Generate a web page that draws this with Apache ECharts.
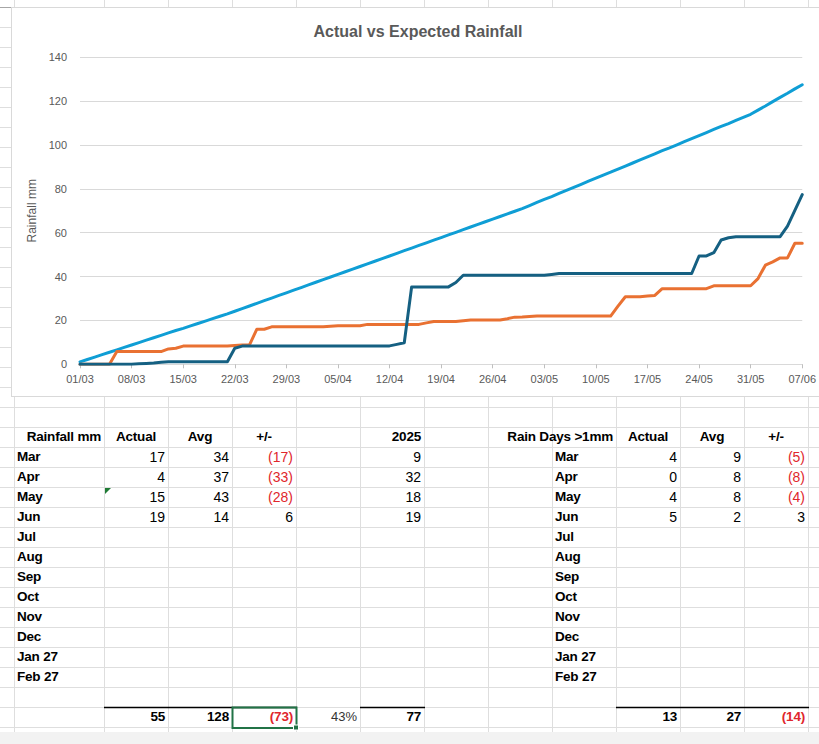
<!DOCTYPE html>
<html>
<head>
<meta charset="utf-8">
<title>Actual vs Expected Rainfall</title>
<script src="https://cdn.jsdelivr.net/npm/echarts@6/dist/echarts.min.js"></script>
<style>
  html, body { margin: 0; padding: 0; background: #fff; }
  #sheet { position: absolute; left: 0; top: 0; width: 819px; height: 744px; overflow: hidden; }
  #grid { position: absolute; left: 0; top: 0; }
  #chartBox { position: absolute; left: 11px; top: 7px; width: 830px; height: 390px; background: #fff; border: 1px solid #d9d9d9; box-sizing: border-box; }
  #chart { position: absolute; left: 0; top: 0; width: 819px; height: 744px; }
  .cell { position: absolute; white-space: nowrap; line-height: 20px; height: 20px; color: #000; }
  .lbl { font: bold 13.5px "Liberation Sans", Arial, sans-serif; letter-spacing: -0.2px; }
  .num { font: 14px "Liberation Sans", Arial, sans-serif; }
  .pct { font: 13px "Liberation Sans", Arial, sans-serif; color: #333; }
  .neg { color: #e0262c; }
</style>
</head>
<body>
<div id="sheet">
  <svg id="grid" width="819" height="744"></svg>
  <div id="chartBox"></div>
  <div id="cells"></div>
</div>
<div id="chart"></div>
<script>
// daily cumulative rainfall (mm), 01/03 .. 07/06
const monthDays = [['03', 31], ['04', 30], ['05', 31], ['06', 7]];

const avgCum = [
  1.1, 2.2, 3.3, 4.4, 5.5, 6.6, 7.7, 8.8, 9.9, 11.0, 12.1, 13.2, 14.3, 15.4, 16.4, 17.5,
  18.6, 19.7, 20.8, 21.9, 23.0, 24.2, 25.4, 26.6, 27.8, 29.0, 30.2, 31.4, 32.6, 33.8, 35.0,
  36.2, 37.4, 38.6, 39.8, 41.0, 42.2, 43.4, 44.6, 45.8, 47.0, 48.2, 49.4, 50.6, 51.8, 53.0,
  54.2, 55.4, 56.6, 57.8, 59.0, 60.2, 61.4, 62.6, 63.8, 65.0, 66.2, 67.4, 68.6, 69.8, 71.0,
  72.4, 73.8, 75.2, 76.5, 77.9, 79.3, 80.7, 82.1, 83.5, 84.9, 86.3, 87.6, 89.0, 90.4, 91.8,
  93.2, 94.6, 96.0, 97.4, 98.7, 100.1, 101.5, 102.9, 104.3, 105.7, 107.1, 108.5, 109.8, 111.2,
  112.6, 114.0,
  115.9, 117.8, 119.8, 121.7, 123.6, 125.6, 127.5
];

const actualCum = [
  0, 0, 0, 0, 0, 5.8, 5.8, 5.8, 5.8, 5.8, 5.8, 5.8, 7.0, 7.3, 8.3, 8.3,
  8.3, 8.3, 8.3, 8.3, 8.3, 8.6, 8.8, 8.9, 16.0, 16.0, 17.1, 17.1, 17.1, 17.1, 17.1,
  17.1, 17.1, 17.1, 17.4, 17.6, 17.6, 17.6, 17.6, 18.2, 18.2, 18.2, 18.2, 18.2, 18.2, 18.2,
  18.2, 18.9, 19.5, 19.5, 19.5, 19.5, 19.9, 20.2, 20.2, 20.2, 20.2, 20.2, 20.8, 21.5, 21.6,
  21.8, 22.0, 22.0, 22.0, 22.0, 22.0, 22.0, 22.0, 22.0, 22.0, 22.0, 22.0, 26.5, 30.8, 30.8,
  30.8, 31.1, 31.4, 34.5, 34.5, 34.5, 34.5, 34.5, 34.5, 34.5, 35.8, 35.8, 35.8, 35.8, 35.8,
  35.8,
  39.1, 45.2, 46.7, 48.5, 48.5, 55.2, 55.2
];

const y2025Cum = [
  0, 0, 0, 0, 0, 0, 0, 0, 0.2, 0.4, 0.6, 0.9, 1.2, 1.2, 1.2, 1.2,
  1.2, 1.2, 1.2, 1.2, 1.2, 7.3, 8.3, 8.4, 8.4, 8.4, 8.4, 8.4, 8.4, 8.4, 8.4,
  8.4, 8.4, 8.4, 8.4, 8.4, 8.4, 8.4, 8.4, 8.4, 8.4, 8.4, 8.4, 9.1, 9.8, 35.3,
  35.3, 35.3, 35.3, 35.3, 35.3, 37.3, 40.6, 40.6, 40.6, 40.6, 40.6, 40.6, 40.6, 40.6, 40.6,
  40.6, 40.6, 40.6, 41.0, 41.4, 41.4, 41.4, 41.4, 41.4, 41.4, 41.4, 41.4, 41.4, 41.4, 41.4,
  41.4, 41.4, 41.4, 41.4, 41.4, 41.4, 41.4, 41.4, 49.4, 49.4, 50.9, 56.7, 57.7, 58.2, 58.2,
  58.2,
  58.2, 58.2, 58.2, 58.2, 63.0, 70.2, 77.4
];

// table data
const months = ['Mar', 'Apr', 'May', 'Jun', 'Jul', 'Aug', 'Sep', 'Oct', 'Nov', 'Dec', 'Jan 27', 'Feb 27'];
const rainActual = [17, 4, 15, 19];
const rainAvg = [34, 37, 43, 14];
const rainDiff = [-17, -33, -28, 6];
const rain2025 = [9, 32, 18, 19];
const rainTotals = [55, 128, -73];
const rainPct = '43%';
const rain2025Total = 77;
const daysActual = [4, 0, 4, 5];
const daysAvg = [9, 8, 8, 2];
const daysDiff = [-5, -8, -4, 3];
const daysTotals = [13, 27, -14];

const days = [];
monthDays.forEach(([m, n]) => {
  for (let d = 1; d <= n; d++) days.push(String(d).padStart(2, '0') + '/' + m);
});

// ---- spreadsheet backdrop ----
const PAGE_W = 819;
const COLS = [0, 14, 104, 168, 232, 296, 360, 424, 488, 552, 616, 680, 744, 808, 872];
const ROW0 = 7;
const ROW_H = 20;
const rowTop = r => ROW0 + r * ROW_H;

const svg = document.getElementById('grid');
const NS = 'http://www.w3.org/2000/svg';
function svgEl(tag, attrs) {
  const e = document.createElementNS(NS, tag);
  Object.keys(attrs).forEach(k => e.setAttribute(k, attrs[k]));
  svg.appendChild(e);
  return e;
}
COLS.slice(1, -1).forEach(x => svgEl('line', { x1: x + 0.5, x2: x + 0.5, y1: 0, y2: 732, stroke: '#dedede' }));
for (let r = 1; r <= 36; r++) {
  svgEl('line', { x1: 0, x2: PAGE_W, y1: rowTop(r) + 0.5, y2: rowTop(r) + 0.5, stroke: '#dedede' });
}
svgEl('line', { x1: 0, x2: PAGE_W, y1: ROW0 + 0.5, y2: ROW0 + 0.5, stroke: '#a6a6a6' });
svgEl('rect', { x: 0, y: 732, width: PAGE_W, height: 12, fill: '#f2f2f2' });
// total borders
[[2, 5], [6, 7], [10, 13]].forEach(([a, b]) => {
  svgEl('line', { x1: COLS[a], x2: COLS[b] + 1, y1: rowTop(35) + 0.5, y2: rowTop(35) + 0.5, stroke: '#000', 'stroke-width': 1.5 });
});
// error indicator on May / Actual
svgEl('polygon', { points: `${COLS[2] + 1},${rowTop(24) + 1} ${COLS[2] + 7},${rowTop(24) + 1} ${COLS[2] + 1},${rowTop(24) + 7}`, fill: '#1e7b34' });
// selected cell
svgEl('rect', { x: COLS[4] + 0.5, y: rowTop(35) + 0.5, width: COLS[5] - COLS[4], height: 20.5, fill: 'none', stroke: '#217346', 'stroke-width': 2 });
svgEl('rect', { x: COLS[5] - 2.5, y: rowTop(36) - 2, width: 5, height: 5, fill: '#217346', stroke: '#fff', 'stroke-width': 1 });

const cells = document.getElementById('cells');
function cell(text, col, row, align, cls) {
  const d = document.createElement('div');
  d.className = 'cell ' + cls;
  d.textContent = text;
  d.style.top = (rowTop(row) + 1.5) + 'px';
  const l = COLS[col], r = COLS[col + 1];
  if (align === 'left') d.style.left = (l + 3) + 'px';
  else if (align === 'right') d.style.right = (PAGE_W - r + 3) + 'px';
  else { d.style.left = ((l + r) / 2) + 'px'; d.style.transform = 'translateX(-50%)'; }
  cells.appendChild(d);
}
const fmt = v => (v < 0 ? '(' + Math.abs(v) + ')' : String(v));
const negCls = v => (v < 0 ? ' neg' : '');

// rainfall table
cell('Rainfall mm', 1, 21, 'right', 'lbl');
cell('Actual', 2, 21, 'center', 'lbl');
cell('Avg', 3, 21, 'center', 'lbl');
cell('+/-', 4, 21, 'center', 'lbl');
cell('2025', 6, 21, 'right', 'lbl');
months.forEach((m, i) => {
  cell(m, 1, 22 + i, 'left', 'lbl');
  if (i < rainActual.length) {
    cell(fmt(rainActual[i]), 2, 22 + i, 'right', 'num');
    cell(fmt(rainAvg[i]), 3, 22 + i, 'right', 'num');
    cell(fmt(rainDiff[i]), 4, 22 + i, 'right', 'num' + negCls(rainDiff[i]));
    cell(fmt(rain2025[i]), 6, 22 + i, 'right', 'num');
  }
});
rainTotals.forEach((v, i) => cell(fmt(v), 2 + i, 35, 'right', 'lbl' + negCls(v)));
cell(rainPct, 5, 35, 'right', 'pct');
cell(fmt(rain2025Total), 6, 35, 'right', 'lbl');

// rain days table
cell('Rain Days >1mm', 9, 21, 'right', 'lbl');
cell('Actual', 10, 21, 'center', 'lbl');
cell('Avg', 11, 21, 'center', 'lbl');
cell('+/-', 12, 21, 'center', 'lbl');
months.forEach((m, i) => {
  cell(m, 9, 22 + i, 'left', 'lbl');
  if (i < daysActual.length) {
    cell(fmt(daysActual[i]), 10, 22 + i, 'right', 'num');
    cell(fmt(daysAvg[i]), 11, 22 + i, 'right', 'num');
    cell(fmt(daysDiff[i]), 12, 22 + i, 'right', 'num' + negCls(daysDiff[i]));
  }
});
daysTotals.forEach((v, i) => cell(fmt(v), 10 + i, 35, 'right', 'lbl' + negCls(v)));

// ---- chart ----
const font = 'Liberation Sans';
const chart = echarts.init(document.getElementById('chart'), null, { renderer: 'svg' });
const line = (name, data, color) => ({
  name,
  type: 'line',
  data,
  showSymbol: false,
  symbol: 'none',
  lineStyle: { color, width: 3, cap: 'round', join: 'round' },
  itemStyle: { color },
});
chart.setOption({
  animation: false,
  title: {
    text: 'Actual vs Expected Rainfall',
    left: 413,
    top: 18,
    textAlign: 'center',
    textStyle: { fontFamily: font, fontSize: 16, fontWeight: 'bold', color: '#595959' },
  },
  grid: { left: 80, right: 13.8, top: 57.3, bottom: 379.7 },
  xAxis: {
    type: 'category',
    data: days,
    boundaryGap: false,
    axisLine: { lineStyle: { color: '#d9d9d9' } },
    axisTick: { interval: 6, length: 4, lineStyle: { color: '#bfbfbf' } },
    axisLabel: { interval: 6, color: '#595959', fontSize: 11, fontFamily: font, margin: 9 },
  },
  yAxis: {
    type: 'value',
    min: 0,
    max: 140,
    interval: 20,
    name: 'Rainfall mm',
    nameLocation: 'middle',
    nameGap: 35,
    nameRotate: 90,
    nameTextStyle: { color: '#595959', fontSize: 12, fontFamily: font },
    axisLabel: { color: '#595959', fontSize: 11, fontFamily: font, margin: 13 },
    splitLine: { lineStyle: { color: '#d9d9d9' } },
  },
  series: [
    line('Avg', avgCum, '#0f9ed5'),
    line('Actual', actualCum, '#e97132'),
    line('2025', y2025Cum, '#156082'),
  ],
});
</script>
</body>
</html>
